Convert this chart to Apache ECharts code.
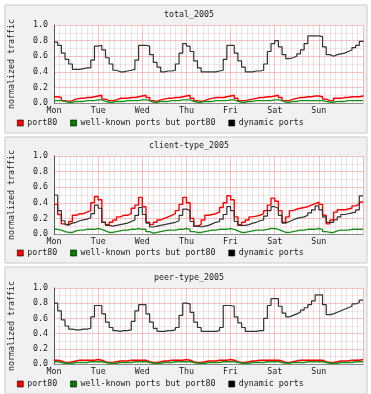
<!DOCTYPE html>
<html>
<head>
<meta charset="utf-8">
<script src="https://cdn.jsdelivr.net/npm/echarts@6/dist/echarts.min.js"></script>
<style>
  html, body { margin: 0; padding: 0; background: #fff; }
  #chart { width: 371px; height: 394px; }
</style>
</head>
<body>
<div id="chart"></div>
<script>
// Weekly traffic, one sample every 2 hours (Mon 00:00 .. Mon 00:00 next week)
const days = ['Mon', 'Tue', 'Wed', 'Thu', 'Fri', 'Sat', 'Sun'];
const seriesNames = ['port80', 'well-known ports but port80', 'dynamic ports'];
const panelTitles = ['total_2005', 'client-type_2005', 'peer-type_2005'];

// total_2005
const totalPort80 = [
    0.08, 0.07, 0.03, 0.02, 0.03, 0.05, 0.06, 0.06, 0.07, 0.07, 0.08, 0.09,
    0.10, 0.05, 0.03, 0.03, 0.04, 0.06, 0.06, 0.06, 0.07, 0.07, 0.08, 0.09,
    0.10, 0.07, 0.03, 0.02, 0.04, 0.05, 0.06, 0.06, 0.07, 0.07, 0.08, 0.09,
    0.10, 0.06, 0.03, 0.02, 0.03, 0.05, 0.06, 0.07, 0.07, 0.07, 0.08, 0.09,
    0.10, 0.06, 0.03, 0.03, 0.04, 0.05, 0.06, 0.07, 0.07, 0.08, 0.08, 0.09,
    0.10, 0.07, 0.03, 0.03, 0.05, 0.06, 0.07, 0.07, 0.08, 0.08, 0.09, 0.09,
    0.08, 0.05, 0.03, 0.03, 0.06, 0.06, 0.07, 0.07, 0.08, 0.08, 0.08, 0.09, 0.10
];
const totalWellKnown = [
    0.03, 0.03, 0.02, 0.01, 0.01, 0.02, 0.02, 0.02, 0.03, 0.03, 0.03, 0.04,
    0.04, 0.02, 0.01, 0.01, 0.02, 0.02, 0.02, 0.03, 0.03, 0.03, 0.03, 0.04,
    0.04, 0.03, 0.01, 0.01, 0.02, 0.02, 0.02, 0.03, 0.03, 0.03, 0.04, 0.04,
    0.04, 0.02, 0.01, 0.01, 0.02, 0.02, 0.02, 0.03, 0.03, 0.03, 0.03, 0.04,
    0.04, 0.02, 0.01, 0.01, 0.02, 0.02, 0.03, 0.03, 0.03, 0.03, 0.03, 0.04,
    0.04, 0.03, 0.01, 0.01, 0.02, 0.02, 0.03, 0.03, 0.03, 0.03, 0.03, 0.03,
    0.03, 0.02, 0.01, 0.01, 0.02, 0.02, 0.02, 0.03, 0.03, 0.03, 0.03, 0.03, 0.03
];
const totalDynamic = [
    0.78, 0.74, 0.64, 0.56, 0.50, 0.43, 0.43, 0.44, 0.45, 0.45, 0.55, 0.73,
    0.74, 0.68, 0.58, 0.50, 0.42, 0.40, 0.40, 0.41, 0.42, 0.43, 0.55, 0.74,
    0.74, 0.73, 0.62, 0.52, 0.46, 0.40, 0.41, 0.41, 0.42, 0.50, 0.64, 0.76,
    0.73, 0.66, 0.54, 0.45, 0.40, 0.40, 0.40, 0.40, 0.41, 0.42, 0.56, 0.74,
    0.74, 0.64, 0.54, 0.46, 0.40, 0.40, 0.41, 0.41, 0.42, 0.50, 0.66, 0.76,
    0.80, 0.72, 0.62, 0.57, 0.58, 0.60, 0.63, 0.68, 0.76, 0.86, 0.86, 0.86,
    0.85, 0.72, 0.62, 0.60, 0.62, 0.63, 0.64, 0.66, 0.68, 0.71, 0.74, 0.79, 0.80
];

// client-type_2005
const clientPort80 = [
    0.38, 0.25, 0.13, 0.11, 0.16, 0.24, 0.26, 0.26, 0.28, 0.30, 0.40, 0.48,
    0.44, 0.15, 0.12, 0.15, 0.18, 0.22, 0.24, 0.24, 0.26, 0.33, 0.37, 0.47,
    0.35, 0.15, 0.12, 0.15, 0.18, 0.20, 0.22, 0.24, 0.26, 0.30, 0.38, 0.47,
    0.40, 0.20, 0.10, 0.12, 0.18, 0.24, 0.25, 0.26, 0.28, 0.34, 0.40, 0.49,
    0.44, 0.22, 0.12, 0.15, 0.18, 0.22, 0.23, 0.24, 0.26, 0.30, 0.37, 0.46,
    0.42, 0.30, 0.15, 0.22, 0.30, 0.32, 0.33, 0.34, 0.35, 0.37, 0.39, 0.41,
    0.38, 0.24, 0.13, 0.18, 0.28, 0.31, 0.31, 0.32, 0.33, 0.36, 0.38, 0.41, 0.41
];
const clientWellKnown = [
    0.06, 0.05, 0.03, 0.02, 0.02, 0.04, 0.05, 0.05, 0.06, 0.06, 0.06, 0.07,
    0.06, 0.04, 0.02, 0.02, 0.03, 0.04, 0.05, 0.05, 0.06, 0.06, 0.07, 0.06,
    0.06, 0.03, 0.01, 0.02, 0.03, 0.04, 0.05, 0.05, 0.05, 0.06, 0.06, 0.07,
    0.06, 0.03, 0.02, 0.02, 0.03, 0.04, 0.05, 0.05, 0.06, 0.06, 0.06, 0.07,
    0.06, 0.04, 0.02, 0.02, 0.03, 0.04, 0.05, 0.05, 0.05, 0.06, 0.07, 0.07,
    0.06, 0.04, 0.02, 0.02, 0.03, 0.04, 0.05, 0.05, 0.06, 0.06, 0.06, 0.07,
    0.06, 0.03, 0.02, 0.02, 0.04, 0.05, 0.05, 0.05, 0.06, 0.06, 0.06, 0.06, 0.06
];
const clientDynamic = [
    0.50, 0.30, 0.17, 0.12, 0.14, 0.15, 0.17, 0.18, 0.19, 0.21, 0.26, 0.37,
    0.33, 0.15, 0.11, 0.10, 0.11, 0.12, 0.13, 0.14, 0.16, 0.18, 0.24, 0.34,
    0.25, 0.14, 0.09, 0.10, 0.11, 0.12, 0.13, 0.14, 0.15, 0.17, 0.24, 0.32,
    0.30, 0.16, 0.10, 0.09, 0.10, 0.11, 0.13, 0.15, 0.16, 0.19, 0.25, 0.35,
    0.30, 0.16, 0.11, 0.11, 0.12, 0.14, 0.15, 0.17, 0.18, 0.23, 0.30, 0.35,
    0.33, 0.24, 0.14, 0.16, 0.18, 0.20, 0.21, 0.22, 0.24, 0.27, 0.31, 0.36,
    0.31, 0.22, 0.15, 0.15, 0.18, 0.22, 0.25, 0.26, 0.27, 0.28, 0.31, 0.49, 0.49
];

// peer-type_2005
const peerPort80 = [
    0.05, 0.04, 0.02, 0.02, 0.03, 0.04, 0.05, 0.05, 0.05, 0.05, 0.05, 0.06,
    0.05, 0.03, 0.02, 0.02, 0.03, 0.04, 0.04, 0.04, 0.05, 0.05, 0.05, 0.05,
    0.05, 0.03, 0.02, 0.02, 0.03, 0.04, 0.04, 0.05, 0.05, 0.05, 0.05, 0.06,
    0.05, 0.03, 0.02, 0.02, 0.03, 0.04, 0.04, 0.04, 0.05, 0.05, 0.05, 0.06,
    0.05, 0.03, 0.02, 0.02, 0.03, 0.04, 0.04, 0.05, 0.05, 0.05, 0.05, 0.05,
    0.05, 0.04, 0.02, 0.02, 0.03, 0.04, 0.05, 0.05, 0.05, 0.05, 0.05, 0.05,
    0.05, 0.03, 0.02, 0.02, 0.03, 0.04, 0.04, 0.04, 0.05, 0.05, 0.05, 0.06, 0.06
];
const peerWellKnown = [
    0.03, 0.02, 0.01, 0.01, 0.01, 0.02, 0.02, 0.02, 0.02, 0.03, 0.03, 0.03,
    0.03, 0.02, 0.01, 0.01, 0.01, 0.02, 0.02, 0.02, 0.02, 0.03, 0.03, 0.03,
    0.03, 0.02, 0.01, 0.01, 0.01, 0.02, 0.02, 0.02, 0.03, 0.03, 0.03, 0.03,
    0.03, 0.02, 0.01, 0.01, 0.01, 0.02, 0.02, 0.02, 0.02, 0.03, 0.03, 0.03,
    0.03, 0.02, 0.01, 0.01, 0.01, 0.02, 0.02, 0.02, 0.02, 0.03, 0.03, 0.03,
    0.03, 0.02, 0.01, 0.01, 0.02, 0.02, 0.02, 0.02, 0.03, 0.03, 0.03, 0.03,
    0.03, 0.02, 0.01, 0.01, 0.01, 0.02, 0.02, 0.02, 0.02, 0.03, 0.03, 0.03, 0.03
];
const peerDynamic = [
    0.80, 0.70, 0.58, 0.50, 0.46, 0.45, 0.45, 0.46, 0.46, 0.47, 0.62, 0.77,
    0.77, 0.66, 0.55, 0.48, 0.44, 0.43, 0.44, 0.44, 0.45, 0.56, 0.70, 0.78,
    0.78, 0.66, 0.55, 0.47, 0.43, 0.43, 0.44, 0.44, 0.45, 0.48, 0.64, 0.80,
    0.79, 0.68, 0.55, 0.48, 0.43, 0.43, 0.43, 0.43, 0.44, 0.48, 0.77, 0.77,
    0.76, 0.62, 0.54, 0.48, 0.43, 0.43, 0.43, 0.44, 0.44, 0.60, 0.77, 0.86,
    0.86, 0.76, 0.67, 0.62, 0.64, 0.66, 0.68, 0.71, 0.74, 0.78, 0.83, 0.91,
    0.91, 0.78, 0.65, 0.66, 0.68, 0.70, 0.72, 0.74, 0.76, 0.79, 0.81, 0.84, 0.84
];

const panels = [
    { title: panelTitles[0], data: [totalPort80, totalWellKnown, totalDynamic] },
    { title: panelTitles[1], data: [clientPort80, clientWellKnown, clientDynamic] },
    { title: panelTitles[2], data: [peerPort80, peerWellKnown, peerDynamic] }
];

// layout of the three stacked panels
const layout = [
    { box: [5, 5, 362, 128], grid: [25, 78], title: 11, legend: 119 },
    { box: [5, 137, 362, 126], grid: [156, 78], title: 142, legend: 249 },
    { box: [5, 267, 362, 127], grid: [288, 76], title: 274, legend: 380 }
];

const colors = ['#ff0000', '#1a8f1a', '#333333'];
const legendColors = ['#ff0000', '#008000', '#000000'];
const mono = 'DejaVu Sans Mono';
const textColor = '#1a1a1a';

// sample times in hours from Monday 00:00
function toPoints(values) {
    return values.map((v, i) => [i * 2, v]);
}

const chart = echarts.init(document.getElementById('chart'), null, { renderer: 'canvas' });

const option = {
    animation: false,
    backgroundColor: '#ffffff',
    graphic: layout.map(l => ({
        type: 'rect',
        z: -10,
        silent: true,
        shape: { x: l.box[0], y: l.box[1], width: l.box[2], height: l.box[3] },
        style: { fill: '#f1f1f1', stroke: '#c9c9c9', lineWidth: 1 }
    })),
    title: panels.map((p, i) => ({
        text: p.title,
        left: 189,
        textAlign: 'center',
        top: layout[i].title,
        padding: 0,
        textStyle: { fontFamily: mono, fontSize: 8.3, fontWeight: 'normal', color: textColor }
    })),
    legend: panels.map((p, i) => ({
        left: 17,
        top: layout[i].legend,
        padding: 0,
        itemWidth: 6,
        itemHeight: 6,
        itemGap: 13,
        icon: 'rect',
        selectedMode: false,
        data: seriesNames.map((n, k) => ({
            name: n,
            itemStyle: { color: legendColors[k], borderColor: '#000', borderWidth: 0.6 }
        })),
        textStyle: { fontFamily: mono, fontSize: 8.3, color: textColor, padding: [0, 0, 0, -1] }
    })),
    grid: layout.map(l => ({
        left: 53,
        top: l.grid[0],
        width: 310,
        height: l.grid[1],
        show: true,
        backgroundColor: '#ffffff',
        borderWidth: 0
    })),
    xAxis: panels.map((p, i) => ({
        type: 'value',
        gridIndex: i,
        min: 0,
        max: 168,
        interval: 24,
        axisLine: { show: true, lineStyle: { color: '#8c8c8c', width: 1 } },
        axisTick: { show: false },
        axisLabel: {
            margin: 4,
            fontFamily: mono,
            fontSize: 8.3,
            color: textColor,
            formatter: v => (v < 168 ? days[v / 24] : '')
        },
        splitLine: { show: true, lineStyle: { color: 'rgba(240,120,120,0.45)', width: 1 } },
        minorTick: { show: false, splitNumber: 8 },
        minorSplitLine: { show: true, lineStyle: { color: 'rgba(190,180,180,0.35)', width: 1 } }
    })),
    yAxis: panels.map((p, i) => ({
        type: 'value',
        gridIndex: i,
        min: 0,
        max: 1,
        interval: 0.2,
        name: 'normalized traffic',
        nameLocation: 'middle',
        nameRotate: 90,
        nameGap: 38,
        nameTextStyle: { fontFamily: mono, fontSize: 8.3, color: textColor },
        axisLine: { show: true, lineStyle: { color: '#555555', width: 1 } },
        axisTick: { show: false },
        axisLabel: {
            margin: 6,
            fontFamily: mono,
            fontSize: 8.3,
            color: textColor,
            formatter: v => v.toFixed(1)
        },
        splitLine: { show: true, lineStyle: { color: 'rgba(240,120,120,0.45)', width: 1 } },
        minorTick: { show: false, splitNumber: 2 },
        minorSplitLine: { show: true, lineStyle: { color: 'rgba(240,150,150,0.25)', width: 1 } }
    })),
    series: []
};

panels.forEach((p, i) => {
    p.data.forEach((values, k) => {
        option.series.push({
            name: seriesNames[k],
            type: 'line',
            xAxisIndex: i,
            yAxisIndex: i,
            step: 'end',
            symbol: 'none',
            data: toPoints(values),
            color: colors[k],
            lineStyle: { color: colors[k], width: k === 2 ? 1.2 : 1.4 },
            z: 3 + k
        });
    });
});

chart.setOption(option);
</script>
</body>
</html>
